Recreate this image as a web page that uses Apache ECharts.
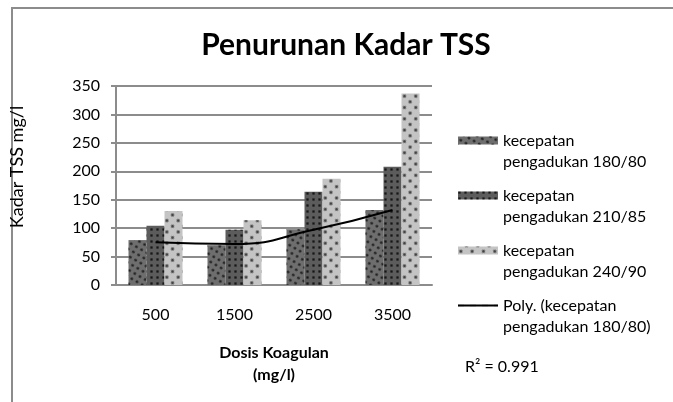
<!DOCTYPE html>
<html>
<head>
<meta charset="utf-8">
<script src="https://cdn.jsdelivr.net/npm/echarts@6/dist/echarts.min.js"></script>
<style>
  html, body { margin: 0; padding: 0; background: #fff; }
  #chart { width: 673px; height: 402px; }
</style>
</head>
<body>
<div id="chart"></div>
<script>
var categories = ['500', '1500', '2500', '3500'];
var seriesNames = [
  'kecepatan pengadukan 180/80',
  'kecepatan pengadukan 210/85',
  'kecepatan pengadukan 240/90'
];
var trendName = 'Poly. (kecepatan pengadukan 180/80)';
var speed180 = [79, 70, 98, 132];
var speed210 = [104, 97, 164, 208];
var speed240 = [130, 114, 187, 337];
// polynomial trendline of 180/80 at each dose
var trend180 = [75, 72, 97, 132];

var font = 'Lato, "Open Sans", sans-serif';
var grey = '#8c8c8c';

// legend icons: box is 40x42 so the swatch sits beside the first text line
var barIcon = 'path://M0,0h0.01v0.01h-0.01z M0,6.5h40v8h-40z M0,42h0.01v-0.01h-0.01z';
var lineIcon = 'path://M0,0h0.01v0.01h-0.01z M0,9.5h40v2h-40z M0,42h0.01v-0.01h-0.01z';

var chart = echarts.init(document.getElementById('chart'), null, { renderer: 'canvas' });

chart.setOption({
  animation: false,
  backgroundColor: '#fff',
  aria: { enabled: true, decal: { show: true } },
  title: {
    text: 'Penurunan Kadar TSS',
    left: 341,
    textAlign: 'center',
    top: 25,
    textStyle: { fontFamily: font, fontWeight: 'bold', fontSize: 30, color: '#000' }
  },
  legend: {
    orient: 'vertical',
    left: 453,
    top: 125,
    itemWidth: 40,
    itemHeight: 42,
    itemGap: 13,
    selectedMode: false,
    data: [
      { name: seriesNames[0], icon: barIcon },
      { name: seriesNames[1], icon: barIcon },
      { name: seriesNames[2], icon: barIcon },
      { name: trendName, icon: lineIcon }
    ],
    formatter: function(name) { return name.replace(' pengadukan', '\npengadukan'); },
    textStyle: { fontFamily: font, fontSize: 16, lineHeight: 21, color: '#000' }
  },
  grid: { left: 116, right: 241, top: 86, bottom: 117 },
  xAxis: {
    type: 'category',
    data: categories,
    name: 'Dosis Koagulan\n(mg/l)',
    nameLocation: 'middle',
    nameGap: 57,
    nameTextStyle: { fontFamily: font, fontWeight: 'bold', fontSize: 16, lineHeight: 22, color: '#000' },
    axisLine: { lineStyle: { color: grey, width: 2 } },
    axisTick: { show: false },
    axisLabel: { margin: 22, fontFamily: font, fontSize: 16, color: '#000' }
  },
  yAxis: {
    type: 'value',
    min: 0,
    max: 350,
    interval: 50,
    axisLine: { show: true, lineStyle: { color: grey, width: 2 } },
    axisTick: { show: true, length: 5, lineStyle: { color: grey, width: 2 } },
    axisLabel: { margin: 16, fontFamily: font, fontSize: 16, color: '#000' },
    splitLine: { lineStyle: { color: grey, width: 2 } }
  },
  series: [
    {
      name: seriesNames[0],
      type: 'bar',
      data: speed180,
      barWidth: 18,
      barGap: '0%',
      itemStyle: {
        color: '#6e6e6e',
        decal: { symbol: 'circle', symbolSize: 0.9, color: '#1e1e1e', dashArrayX: 3, dashArrayY: 3 }
      }
    },
    {
      name: seriesNames[1],
      type: 'bar',
      data: speed210,
      barWidth: 18,
      barGap: '0%',
      itemStyle: {
        color: '#5c5c5c',
        decal: { symbol: 'rect', symbolSize: 0.75, color: '#171717', dashArrayX: 3, dashArrayY: 3 }
      }
    },
    {
      name: seriesNames[2],
      type: 'bar',
      data: speed240,
      barWidth: 18,
      barGap: '0%',
      itemStyle: {
        color: '#c4c4c4',
        decal: { symbol: 'diamond', symbolSize: 1, color: '#444', dashArrayX: 4, dashArrayY: 4 }
      }
    },
    {
      name: trendName,
      type: 'line',
      data: trend180,
      smooth: true,
      symbol: 'none',
      z: 5,
      itemStyle: { color: '#000' },
      lineStyle: { color: '#000', width: 2 }
    }
  ],
  graphic: [
    {
      type: 'rect',
      shape: { x: 12, y: 8, width: 700, height: 450 },
      style: { fill: 'none', stroke: grey, lineWidth: 2 },
      silent: true
    },
    {
      type: 'text',
      x: 17,
      y: 167,
      rotation: Math.PI / 2,
      style: {
        text: 'Kadar TSS mg/l',
        fontFamily: font,
        fontSize: 18,
        fill: '#000',
        align: 'center',
        verticalAlign: 'middle'
      }
    },
    {
      type: 'text',
      x: 465,
      y: 367,
      style: {
        text: 'R\u00b2 = 0.991',
        fontFamily: font,
        fontSize: 16,
        fill: '#000',
        align: 'left',
        verticalAlign: 'middle'
      }
    }
  ]
});

window.addEventListener('resize', function() { chart.resize(); });
</script>
</body>
</html>
